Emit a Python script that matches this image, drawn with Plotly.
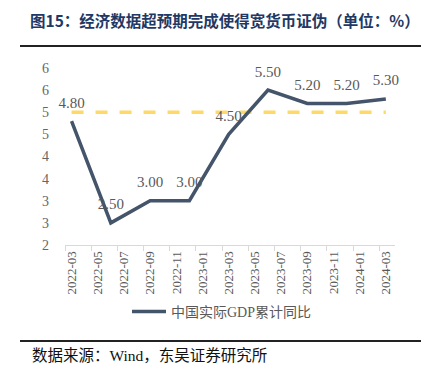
import plotly.graph_objects as go

# ---- data ----
months = ["2022-03", "2022-06", "2022-09", "2022-12", "2023-03",
          "2023-06", "2023-09", "2023-12", "2024-03"]
gdp_yoy = [4.80, 2.50, 3.00, 3.00, 4.50, 5.50, 5.20, 5.20, 5.30]
target = 5.0
tick_labels = ["2022-03", "2022-05", "2022-07", "2022-09", "2022-11",
               "2023-01", "2023-03", "2023-05", "2023-07", "2023-09",
               "2023-11", "2024-01", "2024-03"]
series_name = "中国实际GDP累计同比"
title_text = "图15：经济数据超预期完成使得宽货币证伪（单位：%）"
source_text = "数据来源：Wind，东吴证券研究所"


def month_index(s):
    y, m = s.split("-")
    return (int(y) - 2022) * 12 + (int(m) - 3)


x_idx = [month_index(m) for m in months]
tick_idx = [month_index(t) for t in tick_labels]

W, H = 429, 381
OFF = 8  # page body margin offset
# desired plot area in screen pixels
SX0, SX1, SY0, SY1 = 65, 395, 68, 245
L = SX0 - OFF
T = SY0 - OFF
pw = SX1 - SX0
ph = SY1 - SY0
R = W - L - pw
B = H - T - ph


def sx(px):
    return (px - SX0) / pw


def sy(py):
    return (SY1 - py) / ph


SERIF = "Liberation Serif, Times New Roman, Noto Sans CJK SC, serif"
GREY = "#595959"

fig = go.Figure()

fig.add_trace(go.Scatter(
    x=[x_idx[0], x_idx[-1]], y=[target, target],
    mode="lines",
    line=dict(color="#FFD966", width=3.5, dash="12px,12px"),
    showlegend=False, hoverinfo="skip",
))

fig.add_trace(go.Scatter(
    x=x_idx, y=gdp_yoy,
    mode="lines+markers+text",
    name=series_name,
    line=dict(color="#44546A", width=3.5),
    marker=dict(size=14, color="rgba(0,0,0,0)"),
    text=[f"{v:.2f}" for v in gdp_yoy],
    textposition="top center",
    textfont=dict(family=SERIF, size=15, color=GREY),
    cliponaxis=False,
))

fig.update_layout(
    width=W, height=H,
    margin=dict(l=L, r=R, t=T, b=B, autoexpand=False),
    paper_bgcolor="white", plot_bgcolor="white",
    showlegend=True,
    title=dict(
        text=title_text,
        x=(30 - OFF) / W, xanchor="left", xref="container",
        y=1 - (22 - OFF) / H, yanchor="middle", yref="container",
        font=dict(family="Noto Sans CJK SC", size=15.5, color="#1F3864", weight="bold"),
    ),
    legend=dict(
        orientation="h",
        x=sx(222), xanchor="center",
        y=1 - (312 - OFF) / H, yanchor="middle", yref="container",
        font=dict(family=SERIF, size=14, color=GREY),
        itemwidth=34,
    ),
    xaxis=dict(
        range=[-0.5, 24.7],
        tickmode="array", tickvals=tick_idx, ticktext=tick_labels,
        tickangle=-90,
        ticks="",
        automargin=False,
        tickfont=dict(family=SERIF, size=13, color=GREY),
        showline=True, linecolor="#D9D9D9", linewidth=1,
        showgrid=False, zeroline=False,
        minor=dict(tick0=-0.5, dtick=2, ticks="outside", ticklen=5,
                   tickcolor="#D9D9D9", showgrid=False),
    ),
    yaxis=dict(
        range=[2, 6],
        dtick=0.5, tick0=2,
        tickformat=".0f",
        automargin=False,
        tickfont=dict(family=SERIF, size=14, color="#666666"),
        showline=False, showgrid=False, zeroline=False,
        ticks="", ticklabelstandoff=15,
    ),
    shapes=[
        dict(type="line", xref="paper", yref="paper",
             x0=sx(20), x1=sx(440), y0=sy(46), y1=sy(46),
             line=dict(color="#222222", width=2)),
        dict(type="line", xref="paper", yref="paper",
             x0=sx(20), x1=sx(440), y0=sy(341), y1=sy(341),
             line=dict(color="#222222", width=2)),
    ],
    annotations=[
        dict(text=source_text, xref="paper", yref="paper",
             x=sx(30), y=sy(355), xanchor="left", yanchor="middle",
             showarrow=False,
             font=dict(family="Liberation Serif, Noto Sans CJK SC", size=15.5, color="#111111")),
    ],
)

fig.write_html("out.html")
